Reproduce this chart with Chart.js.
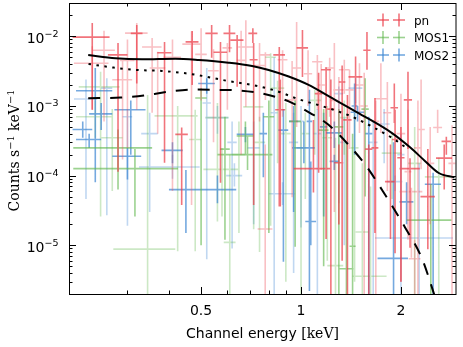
<!DOCTYPE html>
<html><head><meta charset="utf-8">
<script src="https://cdn.jsdelivr.net/npm/chart.js@4.4.1/dist/chart.umd.min.js"></script>
<style>html,body{margin:0;padding:0;background:#fff;}#wrap{width:463px;height:347px;position:relative;}</style>
</head><body><div id="wrap"><canvas id="c"></canvas></div>
<script>
// ---------- axis ----------
const xRange = [0.2, 2.93];
const yRange = [2e-6, 3e-2];
const xTickLabels = [0.5, 1, 2];
const yTickDecades = [-5, -4, -3, -2];
const legendNames = ['pn', 'MOS1', 'MOS2'];

// ---------- model curves (keV, counts/s/keV) ----------
const totalE = [0.2285,0.276,0.332,0.418,0.492,0.605,0.712,0.799,0.918,1.054,1.211,1.49,1.88,2.13,2.37,2.6,2.9];
const totalF = [5.38e-3,4.83e-3,4.67e-3,4.76e-3,4.57e-3,4.18e-3,3.75e-3,3.28e-3,2.64e-3,2.0e-3,1.38e-3,7.9e-4,4.08e-4,2.55e-4,1.6e-4,1.09e-4,9.4e-5];
const dottedE = [0.229,0.272,0.321,0.381,0.449,0.504,0.599,0.712,0.837,0.983,1.21,1.42,1.67,1.92,2.1];
const dottedF = [4.0e-3,3.55e-3,3.28e-3,3.18e-3,2.94e-3,2.7e-3,2.29e-3,2.0e-3,1.66e-3,1.25e-3,9.3e-4,7.05e-4,4.8e-4,3.27e-4,2.4e-4];
const dashedE = [0.2285,0.286,0.336,0.395,0.47,0.552,0.657,0.781,0.918,1.066,1.21,1.39,1.56,1.79,2.06,2.31,2.5,2.6];
const dashedF = [1.29e-3,1.32e-3,1.41e-3,1.59e-3,1.72e-3,1.7e-3,1.66e-3,1.47e-3,1.16e-3,7.9e-4,5.37e-4,2.77e-4,1.44e-4,5.35e-5,1.79e-5,6.6e-6,2.2e-6,1.2e-6];

// ---------- data: [energy, half-width, rate, upper, lower] ----------
const pnA = [
 [0.235,0.030,9.7e-3,1.55e-2,8.8e-4],[0.281,0.019,5.4e-3,8.0e-3,1.14e-4],[0.32,0.013,1.1e-2,1.45e-2,2.1e-3],
 [0.388,0.019,5.8e-3,8.3e-3,1.53e-4],[0.437,0.019,3.9e-4,4.9e-4,3.8e-5],[0.47,0.021,8.3e-3,1.19e-2,2.0e-3],
 [0.538,0.023,1.1e-2,1.45e-2,4.9e-3],[0.572,0.027,5.9e-3,8.3e-3,7.9e-5],[0.609,0.025,1.1e-2,1.45e-2,5.9e-3],
 [0.642,0.029,8.8e-3,1.04e-2,1.88e-3],[0.716,0.022,1.1e-2,1.3e-2,8.0e-3],[0.72,0.02,4.6e-3,8.0e-3,3.8e-5],
 [0.86,0.035,5.4e-3,7.0e-3,3.6e-5],[1.01,0.04,6.8e-3,1.23e-2,2.61e-3],[1.09,0.14,1.26e-4,6.3e-4,5.7e-5],
 [1.19,0.04,3.3e-3,3.6e-3,1.23e-5],[1.30,0.04,1.53e-4,2.8e-4,1.98e-5],[1.46,0.07,2.61e-3,5.1e-3,8.8e-4],
 [1.58,0.04,6.3e-3,1.15e-2,3.3e-3],[1.60,0.04,2.4e-4,2.8e-4,1e-6],[1.86,0.07,8.2e-5,2.8e-4,1.23e-5],
 [1.91,0.05,9.4e-4,2.1e-3,5.7e-4],[2.13,0.15,1.26e-4,1.78e-4,9.2e-6],[2.10,0.06,1.22e-3,3.1e-3,2.4e-4],
 [2.41,0.12,5.0e-5,2.4e-4,8.8e-6],[2.70,0.15,1.78e-4,2.8e-4,6.3e-5],[2.74,0.09,3.1e-4,3.6e-4,2.0e-4],
 [1.38,0.04,6.3e-4,1.44e-3,1e-6],[1.92,0.04,3.3e-4,8.8e-4,7.7e-6],[0.866,0.03,8.8e-4,2.4e-3,3.6e-5],
 [1.13,0.03,1.5e-3,3.0e-3,1.1e-4],[1.23,0.03,9.0e-4,2.4e-3,1e-6],[1.33,0.03,2.2e-3,3.8e-3,6e-6],
 [1.67,0.04,2.5e-4,1.3e-3,1.5e-5],[2.0,0.05,1.8e-4,5.0e-4,3e-6]
];
const pnB = [
 [0.235,0.028,4.1e-3,7.2e-3,8.8e-4],[0.29,0.02,2.37e-3,4.6e-3,1.71e-4],[0.32,0.025,1.11e-2,1.55e-2,8.8e-4],
 [0.356,0.024,7.0e-3,9.4e-3,8.0e-4],[0.468,0.029,7.7e-3,1.18e-2,3.8e-5],[0.60,0.02,6.8e-3,8.0e-3,8.8e-4],
 [0.682,0.035,7.0e-3,1.7e-2,9.7e-4],[0.781,0.027,5.4e-3,5.9e-3,1.22e-3],[0.78,0.04,1.71e-5,2.8e-4,1e-6],
 [0.88,0.03,4.6e-3,6.3e-3,7.0e-4],[1.12,0.04,4.3e-3,5.4e-3,8.8e-4],[1.22,0.04,3.5e-3,4.9e-3,7.0e-4],
 [1.30,0.05,1.7e-3,2.6e-3,4.1e-4],[1.50,0.04,2.0e-3,4.1e-3,4.1e-4],[1.74,0.07,1.27e-3,4.1e-3,4.1e-4],
 [2.15,0.17,5.9e-5,6.7e-5,6.6e-6],[2.2,0.09,6.4e-6,1.2e-5,1e-6],[2.3,0.06,4.6e-4,2.4e-3,1.23e-4],
 [2.58,0.08,4.9e-4,8.8e-4,4.1e-4],[2.10,0.05,1.14e-4,8.8e-4,1.2e-5],[0.94,0.03,1.22e-3,4.4e-3,4.9e-5],
 [1.05,0.03,2.9e-3,6.3e-3,1.0e-3],[1.35,0.05,3.3e-3,4.6e-3,1.5e-3],[1.40,0.04,1.7e-3,3.3e-3,2.4e-4],
 [0.255,0.02,6.3e-3,1.2e-2,6.0e-4],[0.30,0.015,4.5e-3,9.0e-3,2.5e-4],[0.37,0.02,3.5e-3,6.0e-3,4.0e-4],
 [0.41,0.025,5.0e-3,9.0e-3,6.0e-5],[0.50,0.02,5.5e-3,1.3e-2,1.2e-3],[0.545,0.02,3.2e-3,6.5e-3,3.0e-4],
 [0.66,0.02,4.5e-3,1.2e-2,2.0e-4],[0.75,0.03,3.8e-3,8.0e-3,6.0e-4],[0.97,0.03,3.5e-3,1.6e-2,5.0e-4],
 [1.15,0.03,2.0e-3,4.0e-3,1.2e-4],[1.26,0.03,1.2e-3,8.0e-3,3.0e-5],[1.55,0.04,1.0e-3,3.0e-3,1e-6],
 [1.68,0.04,6.0e-4,1.2e-3,1e-6],[1.82,0.05,8.0e-4,2.2e-3,6.0e-5],[2.0,0.06,4.0e-4,1.5e-3,3e-6],
 [2.25,0.06,2.5e-4,1.2e-3,1e-6],[2.45,0.07,1.5e-4,5.0e-4,2.0e-5],[2.85,0.07,1.5e-4,5.3e-4,1e-6]
];
const mos1A = [
 [0.281,0.075,2.5e-4,4.6e-4,6.3e-5],[0.316,0.11,1.26e-4,2.4e-4,2.6e-5],[0.50,0.02,1.3e-3,1.8e-3,1.0e-5],
 [0.69,0.13,2.0e-4,3.6e-4,1.2e-4],[0.59,0.02,2.4e-4,7.0e-4,1.2e-5],[0.68,0.04,3.7e-4,6.0e-4,2.0e-4],
 [0.96,0.04,6.0e-4,1.2e-3,9.5e-6],[1.17,0.04,4.5e-4,9.0e-4,5e-6],[1.37,0.07,4.6e-6,3.0e-4,1e-6],
 [1.43,0.03,9.7e-6,4.0e-4,1e-6],[2.46,0.38,2.3e-5,7.5e-5,1e-6],[1.56,0.04,9.0e-4,2.5e-3,5e-5],
 [0.8,0.03,7.0e-4,1.2e-3,1.5e-5],[1.3,0.04,5.0e-4,9.0e-4,2e-6]
];
const mos1B = [
 [0.249,0.035,1.88e-3,3.1e-3,2.6e-5],[0.345,0.073,8.8e-6,1.44e-3,1e-6],[0.24,0.03,7.0e-4,1.2e-3,3.5e-4],
 [0.425,0.063,7.2e-4,1.0e-3,8.2e-6],[0.48,0.02,3.3e-4,8.8e-4,8.2e-6],[0.56,0.044,6.8e-4,1.1e-3,2.2e-5],
 [0.578,0.07,1.23e-4,2.5e-4,2.6e-5],[0.61,0.025,1.1e-5,2.0e-4,1e-6],[0.72,0.05,9.7e-4,1.6e-3,1.7e-5],
 [0.81,0.03,5.0e-3,5.7e-3,1.9e-5],[1.03,0.03,4.0e-4,8.0e-4,4.6e-5],[1.27,0.07,5.1e-6,3.5e-4,1e-6],
 [1.62,0.19,3.6e-6,7.0e-5,1e-6],[1.53,0.07,1.55e-5,1.5e-4,1e-6],[2.6,0.24,9.6e-5,1.8e-4,1e-6],
 [1.88,0.13,2.1e-4,4.0e-4,4.6e-5],[1.35,0.04,6.8e-4,1.2e-3,2.0e-4],[0.27,0.02,3.5e-4,9.0e-4,6.0e-5],
 [0.85,0.04,1.8e-3,2.3e-3,1.5e-4],[1.1,0.05,1.2e-3,1.7e-3,2.0e-4],
 [0.9,0.03,4.0e-4,1.1e-3,3e-6],[1.0,0.03,2.5e-4,6.0e-4,1e-6],[1.2,0.04,3.5e-4,1.0e-3,6e-6],
 [1.45,0.04,2.5e-4,8.0e-4,3e-6],[0.75,0.03,3.0e-4,7.0e-4,8e-6],[0.65,0.03,2.0e-4,6.0e-4,1.5e-5],
 [2.2,0.1,1.5e-4,5.0e-4,1e-6]
];
const mos2A = [
 [0.24,0.03,1.65e-3,3.5e-3,8e-5],[0.25,0.02,7.7e-4,1.1e-3,4.5e-4],[0.307,0.033,8.8e-4,1.2e-3,2.0e-4],
 [0.22,0.015,4.6e-4,6.0e-4,3.5e-4],[0.23,0.02,3.3e-4,4.0e-4,2.5e-4],[0.30,0.03,1.9e-4,2.5e-4,8.8e-5],
 [0.45,0.05,6.3e-5,1.2e-4,1.5e-5],[0.41,0.03,2.3e-4,3.0e-4,1.5e-4],[0.52,0.03,2.1e-3,2.5e-3,1.5e-3],
 [0.56,0.078,6.3e-5,1.0e-4,4.0e-5],[0.68,0.04,3.9e-4,5.0e-4,3.0e-4],[0.77,0.02,4.0e-4,8.0e-4,9.5e-5],
 [0.885,0.03,4.5e-4,9.0e-4,5.8e-6],[1.02,0.08,2.5e-4,6.0e-4,1.5e-4],[1.07,0.04,2.2e-5,1.6e-4,1e-5],
 [1.06,0.02,6.0e-4,1.7e-3,2.2e-6],[1.17,0.03,5.0e-4,8.0e-4,2.6e-5],[1.48,0.07,8.1e-4,1.0e-3,6.0e-4],
 [1.26,0.07,4.1e-4,6.0e-4,2.5e-4],[1.9,0.2,6.5e-6,3.0e-4,1e-6],[2.08,0.1,4.2e-5,8.0e-5,2.0e-5],
 [2.5,0.14,7.5e-5,1.1e-4,1e-6],[1.26,0.04,1.6e-4,2.0e-4,1.2e-4],[1.45,0.03,1.0e-3,2.1e-3,2.0e-4],
 [0.95,0.03,6.0e-4,1.0e-3,3.0e-5],[1.6,0.04,4.0e-4,7.0e-4,1e-6]
];
const mos2B = [
 [0.225,0.018,1.26e-3,2.4e-3,4.6e-5],[0.26,0.01,1.8e-3,2.5e-3,2.7e-5],[0.30,0.01,7.0e-4,9.0e-4,1.9e-5],
 [0.41,0.085,1.33e-4,2.0e-4,9.0e-5],[0.52,0.015,1.1e-3,3.5e-3,6.3e-6],[0.56,0.045,6.8e-4,1.0e-3,4.0e-4],
 [0.63,0.035,1.0e-4,1.5e-4,7.0e-5],[0.62,0.02,3.0e-4,6.0e-4,9.0e-6],[0.88,0.08,5.5e-5,8.0e-5,3.8e-5],
 [0.83,0.02,8.0e-4,5.0e-3,1e-6],[1.0,0.02,6.0e-4,1.0e-3,1.8e-5],[1.46,0.07,1.8e-3,2.5e-3,1.1e-3],
 [2.27,0.6,1.27e-5,1.5e-4,1e-6],[1.92,0.1,8.2e-5,1.0e-4,6.0e-5],[1.30,0.04,1.5e-3,1.9e-3,4.0e-5],
 [1.78,0.07,5.5e-4,9.0e-4,1.5e-4],
 [0.95,0.03,3.0e-4,8.0e-4,4e-6],[1.12,0.03,4.0e-4,9.0e-4,1e-6],[1.35,0.04,3.0e-4,7.0e-4,1.0e-5],
 [0.72,0.03,2.5e-4,6.0e-4,2.0e-5],[0.35,0.02,4.0e-4,8.0e-4,3.0e-5],[1.65,0.05,3.0e-4,6.0e-4,1e-6],
 [2.0,0.05,2.0e-4,4.0e-4,1e-6]
];

// ---------- styles ----------
const RED = 'rgba(236,62,74,0.72)', RED_L = 'rgba(238,80,92,0.36)';
const GRN = 'rgba(96,182,76,0.62)', GRN_L = 'rgba(96,182,76,0.32)';
const BLU = 'rgba(58,132,210,0.70)', BLU_L = 'rgba(58,132,210,0.32)';

function bars(rows){
  const out=[];
  rows.forEach(([e,de,f,hi,lo])=>{
    out.push({x:e-de,y:f},{x:e+de,y:f},{x:e,y:null},{x:e,y:hi},{x:e,y:lo},{x:e,y:null});
  });
  return out;
}
function curve(E,F){ return E.map((e,i)=>({x:e,y:F[i]})); }
function barSet(rows,color){
  return {data:bars(rows),borderColor:color,borderWidth:1.6,pointRadius:0,spanGaps:false,tension:0,fill:false};
}
function lineSet(E,F,dash){
  return {data:curve(E,F),borderColor:'#000',borderWidth:2,pointRadius:0,borderDash:dash,
          cubicInterpolationMode:'monotone',fill:false,borderCapStyle:'butt'};
}

const decor = {
  id:'decor',
  afterDraw(chart){
    const {ctx, chartArea:a, scales} = chart;
    const sx = scales.x, sy = scales.y;
    ctx.save();
    ctx.strokeStyle='#000'; ctx.fillStyle='#000'; ctx.lineWidth=1;
    const seg=(x1,y1,x2,y2)=>{ctx.beginPath();ctx.moveTo(x1,y1);ctx.lineTo(x2,y2);ctx.stroke();};
    for(let d=-1; d<=0; d++) for(let m=1;m<=9;m++){
      const v=m*Math.pow(10,d);
      if(v<=xRange[0]*1.001||v>=xRange[1]) continue;
      const major = xTickLabels.some(t=>Math.abs(t-v)<1e-9);
      const L = major?7:3.5;
      const px = Math.round(sx.getPixelForValue(v))+0.5;
      seg(px,a.bottom,px,a.bottom-L); seg(px,a.top,px,a.top+L);
    }
    for(let d=-6; d<=-2; d++) for(let m=1;m<=9;m++){
      const v=m*Math.pow(10,d);
      if(v<=yRange[0]*1.001||v>=yRange[1]) continue;
      const L = m===1?7:3.5;
      const py = Math.round(sy.getPixelForValue(v))+0.5;
      seg(a.left,py,a.left+L,py); seg(a.right,py,a.right-L,py);
    }
    ctx.strokeRect(Math.round(a.left)+0.5, Math.round(a.top)+0.5, Math.round(a.right-a.left)-0.5, Math.round(a.bottom-a.top));
    ctx.font='14px "DejaVu Sans"'; ctx.textAlign='center'; ctx.textBaseline='alphabetic';
    xTickLabels.forEach(v=>{ ctx.fillText(String(v), sx.getPixelForValue(v), 315); });
    yTickDecades.forEach(d=>{
      const py = sy.getPixelForValue(Math.pow(10,d));
      const big='10', sup='\u2212'+Math.abs(d);
      ctx.font='14px "DejaVu Sans"'; const w1=ctx.measureText(big).width;
      ctx.font='9.5px "DejaVu Sans"'; const w2=ctx.measureText(sup).width;
      const x0 = 58.5 - w1 - w2;
      ctx.textAlign='left';
      ctx.font='14px "DejaVu Sans"'; ctx.fillText(big, x0, py+6.5);
      ctx.font='9.5px "DejaVu Sans"'; ctx.fillText(sup, x0+w1, py+0.5);
    });
    ctx.textAlign='left';
    ctx.font='14px "DejaVu Sans"'; const t1='Channel energy '; const tw1=ctx.measureText(t1).width;
    ctx.font='14px "DejaVu Serif"'; const t2='[keV]'; const tw2=ctx.measureText(t2).width;
    const cx=(a.left+a.right)/2, xs=cx-(tw1+tw2)/2;
    ctx.font='14px "DejaVu Sans"'; ctx.fillText(t1, xs, 338);
    ctx.font='14px "DejaVu Serif"'; ctx.fillText(t2, xs+tw1, 338);
    ctx.save();
    ctx.translate(19, (a.top+a.bottom)/2+2);
    ctx.rotate(-Math.PI/2);
    const parts=[['Counts s',14,0],['\u22121',9.8,-5.5],[' keV',14,0],['\u22121',9.8,-5.5]];
    let tw=0; parts.forEach(p=>{ctx.font=p[1]+'px "DejaVu Serif"'; p.push(ctx.measureText(p[0]).width); tw+=p[3];});
    let xx=-tw/2;
    parts.forEach(p=>{ctx.font=p[1]+'px "DejaVu Serif"'; ctx.fillText(p[0], xx, p[2]); xx+=p[3];});
    ctx.restore();
    const cols=[RED,GRN,BLU], rowsY=[20,37.5,55];
    legendNames.forEach((n,i)=>{
      const yy=rowsY[i];
      ctx.strokeStyle=cols[i]; ctx.lineWidth=1.6;
      [383,399].forEach(cxx=>{ seg(cxx-6,yy,cxx+6,yy); seg(cxx,yy-6.5,cxx,yy+6.5); });
      ctx.fillStyle='#000'; ctx.font='12px "DejaVu Sans"'; ctx.textAlign='left';
      ctx.fillText(n, 414, yy+4.5);
    });
    ctx.restore();
  }
};

new Chart(document.getElementById('c'), {
  type:'line',
  data:{datasets:[
    lineSet(totalE,totalF,[]),
    lineSet(dottedE,dottedF,[2.5,5.5]),
    lineSet(dashedE,dashedF,[12,10]),
    barSet(pnA,RED), barSet(pnB,RED_L),
    barSet(mos1A,GRN), barSet(mos2A,BLU),
    barSet(mos1B,GRN_L), barSet(mos2B,BLU_L)
  ]},
  options:{
    responsive:true, maintainAspectRatio:false, animation:false,
    layout:{padding:{left:0,right:7,top:3,bottom:0}},
    plugins:{legend:{display:false}, tooltip:{enabled:false}},
    scales:{
      x:{type:'logarithmic',min:xRange[0],max:xRange[1],
         ticks:{display:false},grid:{display:false},border:{display:false},
         afterFit(s){s.height=53;}},
      y:{type:'logarithmic',min:yRange[0],max:yRange[1],
         ticks:{display:false},grid:{display:false},border:{display:false},
         afterFit(s){s.width=69;}}
    }
  },
  plugins:[decor]
});
</script></body></html>
